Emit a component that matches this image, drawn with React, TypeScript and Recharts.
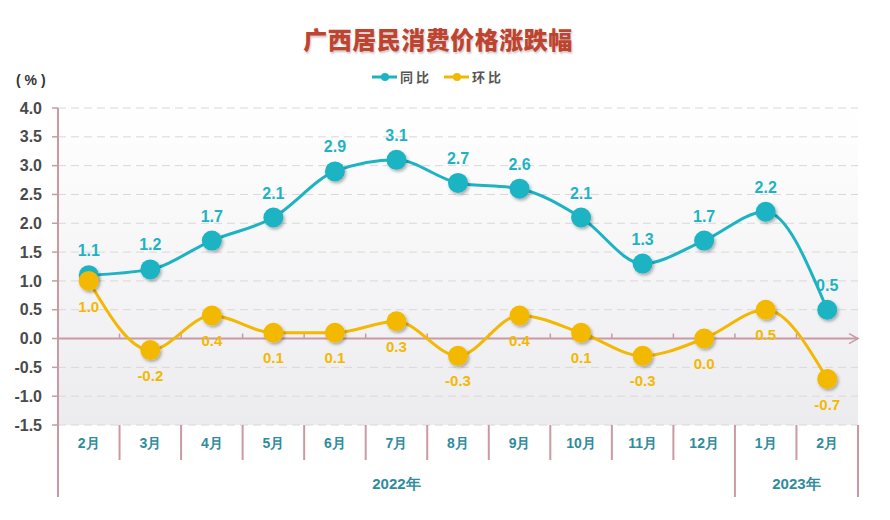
import React from "react";
import { LineChart, Line, XAxis, YAxis, CartesianGrid, ReferenceLine, LabelList } from "recharts";

const periods = ["2022-02", "2022-03", "2022-04", "2022-05", "2022-06", "2022-07", "2022-08", "2022-09", "2022-10", "2022-11", "2022-12", "2023-01", "2023-02"];
const months = ["2月", "3月", "4月", "5月", "6月", "7月", "8月", "9月", "10月", "11月", "12月", "1月", "2月"];
const yoy = [1.1, 1.2, 1.7, 2.1, 2.9, 3.1, 2.7, 2.6, 2.1, 1.3, 1.7, 2.2, 0.5];
const mom = [1.0, -0.2, 0.4, 0.1, 0.1, 0.3, -0.3, 0.4, 0.1, -0.3, 0.0, 0.5, -0.7];
const yTicks = [-1.5, -1.0, -0.5, 0, 0.5, 1.0, 1.5, 2.0, 2.5, 3.0, 3.5, 4.0];
// year groups: label shown at the centre of its months
const years = [
  { label: "2022年", first: 0, last: 10 },
  { label: "2023年", first: 11, last: 12 },
];

const data = periods.map((p, i) => ({ period: p, month: months[i], yoy: yoy[i], mom: mom[i] }));

const TEAL = "#1db3c3";
const GOLD = "#f3b803";
const PINK = "#c99aa2";
const LABEL = "#2f8c9c";
const FONT = "'Liberation Sans', Arial, sans-serif";

function MonthTick(props: any) {
  const { x, y, payload } = props;
  const half = payload.offset ?? 0;
  const i = payload.index;
  return (
    <g>
      <text x={x} y={y + 18} textAnchor="middle" dominantBaseline="central" fill={LABEL} fontSize={14} fontWeight="bold" fontFamily={FONT}>
        {months[i]}
      </text>
      <line x1={x + half} x2={x + half} y1={y} y2={y + 35} stroke={PINK} strokeWidth={2} />
      {i === 0 && <line x1={x - half} x2={x - half} y1={y} y2={y + 35} stroke={PINK} strokeWidth={2} />}
    </g>
  );
}

function YearTick(props: any) {
  const { x, y, payload } = props;
  const half = payload.offset ?? 0;
  const i = payload.index;
  const out: React.ReactNode[] = [];
  years.forEach((g) => {
    const mid = (g.first + g.last) / 2;
    if (Math.floor(mid) === i) {
      const cx = x + (mid - i) * half * 2;
      out.push(
        <text key={g.label} x={cx} y={y + 23} textAnchor="middle" dominantBaseline="central" fill={LABEL} fontSize={15} fontWeight="bold" fontFamily={FONT}>
          {g.label}
        </text>
      );
    }
    if (g.last === i) out.push(<line key={g.label + "r"} x1={x + half} x2={x + half} y1={y} y2={y + 37} stroke={PINK} strokeWidth={2} />);
    if (g.first === i && i === 0) out.push(<line key={g.label + "l"} x1={x - half} x2={x - half} y1={y} y2={y + 37} stroke={PINK} strokeWidth={2} />);
  });
  return <g>{out}</g>;
}

function ZeroLine(props: any) {
  const { x1, y1, x2 } = props;
  const n = periods.length;
  const step = (x2 - x1) / n;
  return (
    <g>
      <line x1={x1} x2={x2} y1={y1} y2={y1} stroke={PINK} strokeWidth={2} />
      {periods.slice(1).map((_, k) => (
        <line key={k} x1={x1 + step * (k + 1)} x2={x1 + step * (k + 1)} y1={y1 - 5} y2={y1} stroke={PINK} strokeWidth={1.5} />
      ))}
      <path d={`M${x2 - 9},${y1 - 5} L${x2},${y1} L${x2 - 9},${y1 + 5}`} fill="none" stroke={PINK} strokeWidth={1.5} />
    </g>
  );
}

function LegendItem({ color, text }: { color: string; text: string }) {
  return (
    <span style={{ display: "inline-flex", alignItems: "center" }}>
      <svg width={25} height={10}>
        <line x1={0} x2={25} y1={5} y2={5} stroke={color} strokeWidth={3} />
        <circle cx={13} cy={5} r={4} fill={color} />
      </svg>
      <span style={{ marginLeft: 3, color: "#555", fontSize: 13, letterSpacing: 3, fontWeight: "bold" }}>{text}</span>
    </span>
  );
}

export default function App() {
  return (
    <div style={{ position: "absolute", left: 0, top: 0, width: 890, height: 520, background: "#fff", fontFamily: "'Noto Sans CJK SC', sans-serif" }}>
      <div style={{ position: "absolute", top: 21, left: 0, width: 876, textAlign: "center", fontSize: 24, fontWeight: 900, color: "#c0432f", textShadow: "1px 2px 2px #ccc", letterSpacing: 0.5 }}>
        广西居民消费价格涨跌幅
      </div>
      <div style={{ position: "absolute", top: 68, left: 0, width: 876, display: "flex", justifyContent: "center", gap: 12, lineHeight: "18px" }}>
        <LegendItem color={TEAL} text="同比" />
        <LegendItem color={GOLD} text="环比" />
      </div>
      <div style={{ position: "absolute", top: 72, left: 16, fontFamily: FONT, fontWeight: "bold", fontSize: 14, color: "#333" }}>
        ( % )
      </div>
      <LineChart width={890} height={520} data={data} margin={{ top: 108, right: 32, bottom: 23, left: 0 }}>
        <defs>
          <linearGradient id="plotBg" x1="0" y1="0" x2="0" y2="1">
            <stop offset="0%" stopColor="#ffffff" />
            <stop offset="100%" stopColor="#ececef" />
          </linearGradient>
          <filter id="dotShadow" x="-50%" y="-50%" width="200%" height="200%">
            <feDropShadow dx={1.5} dy={2} stdDeviation={1.5} floodColor="#000" floodOpacity={0.3} />
          </filter>
        </defs>
        <CartesianGrid vertical={false} stroke="#dcd6d9" strokeDasharray="8 5" fill="url(#plotBg)" />
        <XAxis dataKey="period" scale="band" interval={0} height={35} tickSize={0} tickMargin={0} axisLine={false} tickLine={false} tick={<MonthTick />} />
        <XAxis xAxisId="yr" dataKey="period" scale="band" interval={0} height={37} tickSize={0} tickMargin={0} axisLine={false} tickLine={false} tick={<YearTick />} />
        <YAxis
          width={58}
          domain={[-1.5, 4]}
          ticks={yTicks}
          interval={0}
          tickFormatter={(v: number) => v.toFixed(1)}
          tick={{ fill: "#4a4a4a", fontSize: 16, fontWeight: "bold", fontFamily: FONT }}
          tickLine={{ stroke: PINK, strokeWidth: 1.5 }}
          tickSize={6}
          tickMargin={10}
          axisLine={{ stroke: PINK, strokeWidth: 2 }}
        />
        <ReferenceLine y={0} shape={<ZeroLine />} />
        <Line
          dataKey="yoy"
          type="monotone"
          stroke={TEAL}
          strokeWidth={3}
          dot={{ r: 10, fill: TEAL, stroke: "none", filter: "url(#dotShadow)" }}
          activeDot={false}
          isAnimationActive={false}
        >
          <LabelList dataKey="yoy" position="top" offset={19} formatter={(v: number) => v.toFixed(1)} fill={TEAL} fontSize={16} fontWeight="bold" fontFamily={FONT} />
        </Line>
        <Line
          dataKey="mom"
          type="monotone"
          stroke={GOLD}
          strokeWidth={3}
          dot={{ r: 10, fill: GOLD, stroke: "none", filter: "url(#dotShadow)" }}
          activeDot={false}
          isAnimationActive={false}
        >
          <LabelList dataKey="mom" position="bottom" offset={20} formatter={(v: number) => v.toFixed(1)} fill={GOLD} fontSize={15} fontWeight="bold" fontFamily={FONT} />
        </Line>
      </LineChart>
    </div>
  );
}
